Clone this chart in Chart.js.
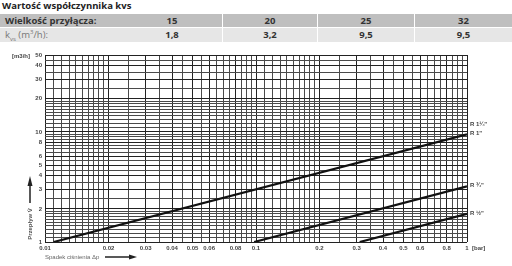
<!DOCTYPE html>
<html lang="pl">
<head>
<meta charset="UTF-8">
<title>Wartość współczynnika kvs</title>
<script src="https://cdn.jsdelivr.net/npm/chart.js"></script>
<style>
    body {
        margin: 0;
        width: 512px;
        height: 266px;
        overflow: hidden;
        background: #fff;
        position: relative;
        font-family: 'Open Sans', sans-serif;
    }
    .title {
        position: absolute;
        left: 2px;
        top: -1px;
        font-size: 9.5px;
        font-weight: 700;
        color: #222;
    }
    .cell {
        position: absolute;
        font-size: 9.5px;
        line-height: 13px;
        color: #333;
        font-weight: 700;
        text-align: center;
    }
    .cell sub, .cell sup { font-size: 6px; line-height: 0; }
    .r1 { top: 14px; height: 13px; background: #bfbfbf; }
    .r2 { top: 28px; height: 14px; line-height: 14px; background: #e6e6e6; }
    .lbl { text-align: left; padding-left: 5px; box-sizing: border-box; }
    .light { font-weight: 400; color: #777; }
    #wrap { position: absolute; left: 0; top: 0; width: 512px; height: 266px; }
</style>
</head>
<body>

<div class="title">Wartość współczynnika kvs</div>
<div id="table"></div>

<div id="wrap"><canvas id="kvsChart"></canvas></div>

<script>
    // tabela kvs
    const connSizes = ['15', '20', '25', '32'];
    const kvsTexts = ['1,8', '3,2', '9,5', '9,5'];

    // krzywe: spadek ciśnienia [bar] -> przepływ [m3/h]
    const dpHalf = [0.31, 1];
    const qHalf = [1, 1.8];
    const dpThreeQ = [0.098, 1];
    const qThreeQ = [1, 3.2];
    const dpOne = [0.011, 1];
    const qOne = [1, 9.5];
    const curveNames = ['R ½"', 'R ¾"', 'R 1"'];

    // opisy osi
    const xLabelValues = [0.01, 0.02, 0.03, 0.04, 0.05, 0.06, 0.08, 0.1, 0.2, 0.3, 0.4, 0.5, 0.6, 0.8, 1];
    const xLabelTexts = ['0.01', '0.02', '0.03', '0.04', '0.05', '0.06', '0.08', '0.1', '0.2', '0.3', '0.4', '0.5', '0.6', '0.8', '1'];
    const yLabelValues = [1, 2, 3, 4, 5, 6, 8, 10, 20, 30, 40, 50];
    const yLabelTexts = ['1', '2', '3', '4', '5', '6', '8', '10', '20', '30', '40', '50'];

    // tabela
    const table = document.getElementById('table');
    const cols = [[122, 100], [223, 94], [318, 96], [415, 97]];
    function addCell(cls, left, width, html) {
        const d = document.createElement('div');
        d.className = 'cell ' + cls;
        d.style.left = left + 'px';
        d.style.width = width + 'px';
        d.innerHTML = html;
        table.appendChild(d);
    }
    addCell('r1 lbl', 0, 122, 'Wielkość przyłącza:');
    addCell('r2 lbl light', 0, 122, 'k<sub>vs</sub> (m<sup>3</sup>/h):');
    cols.forEach((c, i) => {
        addCell('r1', c[0], c[1], connSizes[i]);
        addCell('r2', c[0], c[1], kvsTexts[i]);
    });

    // linie siatki
    function steps(a, b, s) {
        const out = [];
        for (let v = a; v <= b + s / 2; v += s) out.push(+v.toFixed(4));
        return out;
    }
    const xGrid = [...steps(0.01, 0.02, 0.001), ...steps(0.025, 0.1, 0.005), ...steps(0.11, 0.2, 0.01), ...steps(0.25, 1, 0.05)];
    const yGrid = [...steps(1, 2, 0.1), ...steps(2.5, 10, 0.5), ...steps(11, 20, 1), ...steps(25, 50, 5)];

    function findLabel(vals, texts, v) {
        const i = vals.findIndex(lv => Math.abs(lv - v) < 1e-6);
        return i >= 0 ? texts[i] : '';
    }

    const smallFont = { family: '"Liberation Sans", Arial, sans-serif', size: 6, weight: 'bold' };

    const extras = {
        id: 'extras',
        afterDraw(chart) {
            const { ctx, chartArea, scales: { x, y } } = chart;
            ctx.save();
            ctx.fillStyle = '#444';
            ctx.font = 'bold 6px "Liberation Sans", Arial, sans-serif';
            ctx.textBaseline = 'middle';
            ctx.textAlign = 'right';
            ctx.fillText('[m3/h]', 30, y.getPixelForValue(50) + 1);
            ctx.textAlign = 'left';
            ctx.fillText('[bar]', chartArea.right + 5, chartArea.bottom + 6);

            // nazwy krzywych
            const ends = [qHalf[1], qThreeQ[1], qOne[1]];
            ends.forEach((q, i) => {
                ctx.fillText(curveNames[i], chartArea.right + 3, y.getPixelForValue(q) - 1);
            });
            ctx.fillText('R 1¼"', chartArea.right + 3, y.getPixelForValue(qOne[1]) - 10);

            // opis osi X
            ctx.font = '6px "Liberation Sans", Arial, sans-serif';
            ctx.fillStyle = '#666';
            ctx.fillText('Spadek ciśnienia Δp', 45, 257);
            ctx.strokeStyle = '#222';
            ctx.lineWidth = 1.5;
            ctx.beginPath();
            ctx.moveTo(105, 257);
            ctx.lineTo(131, 257);
            ctx.stroke();
            ctx.fillStyle = '#222';
            ctx.beginPath();
            ctx.moveTo(137, 257);
            ctx.lineTo(129, 254.5);
            ctx.lineTo(129, 259.5);
            ctx.closePath();
            ctx.fill();

            // opis osi Y
            ctx.save();
            ctx.translate(30, 224);
            ctx.rotate(-Math.PI / 2);
            ctx.textAlign = 'center';
            ctx.fillStyle = '#555';
            ctx.font = 'bold 6px "Liberation Sans", Arial, sans-serif';
            ctx.fillText('Przepływ V̇', 0, 0);
            ctx.restore();
            ctx.beginPath();
            ctx.moveTo(30, 203);
            ctx.lineTo(30, 184);
            ctx.stroke();
            ctx.beginPath();
            ctx.moveTo(30, 176);
            ctx.lineTo(27.5, 186);
            ctx.lineTo(32.5, 186);
            ctx.closePath();
            ctx.fill();
            ctx.restore();
        }
    };

    function toPoints(xs, ys) {
        return xs.map((v, i) => ({ x: v, y: ys[i] }));
    }
    const lineStyle = { showLine: true, borderColor: '#111', borderWidth: 2.2, pointRadius: 0, fill: false };

    new Chart(document.getElementById('kvsChart'), {
        type: 'scatter',
        data: {
            datasets: [
                { label: curveNames[0], data: toPoints(dpHalf, qHalf), ...lineStyle },
                { label: curveNames[1], data: toPoints(dpThreeQ, qThreeQ), ...lineStyle },
                { label: curveNames[2], data: toPoints(dpOne, qOne), ...lineStyle }
            ]
        },
        options: {
            responsive: true,
            maintainAspectRatio: false,
            animation: false,
            layout: { padding: { top: 55, right: 45, left: 0, bottom: 0 } },
            plugins: { legend: { display: false }, tooltip: { enabled: false } },
            scales: {
                x: {
                    type: 'logarithmic',
                    min: 0.01,
                    max: 1,
                    afterBuildTicks: s => { s.ticks = xGrid.map(v => ({ value: v })); },
                    afterFit: s => { s.height = 24; },
                    border: { display: false },
                    grid: {
                        drawTicks: false,
                        color: c => (c.tick && findLabel(xLabelValues, xLabelTexts, c.tick.value)) ? '#222' : '#4a4a4a',
                        lineWidth: 1
                    },
                    ticks: {
                        autoSkip: false,
                        maxRotation: 0,
                        minRotation: 0,
                        padding: 3,
                        color: '#444',
                        font: smallFont,
                        callback: v => findLabel(xLabelValues, xLabelTexts, v)
                    }
                },
                y: {
                    type: 'logarithmic',
                    min: 1,
                    max: 50,
                    afterBuildTicks: s => { s.ticks = yGrid.map(v => ({ value: v })); },
                    afterFit: s => { s.width = 45; },
                    border: { display: false },
                    grid: {
                        drawTicks: false,
                        color: c => (c.tick && findLabel(yLabelValues, yLabelTexts, c.tick.value)) ? '#222' : '#4a4a4a',
                        lineWidth: 1
                    },
                    ticks: {
                        autoSkip: false,
                        padding: 3,
                        color: '#444',
                        font: smallFont,
                        callback: v => findLabel(yLabelValues, yLabelTexts, v)
                    }
                }
            }
        },
        plugins: [extras]
    });
</script>
</body>
</html>
